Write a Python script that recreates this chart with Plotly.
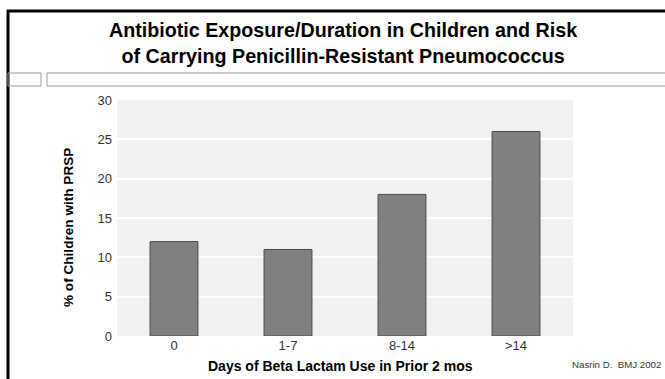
import plotly.graph_objects as go

categories = ["0", "1-7", "8-14", ">14"]
values = [12, 11, 18, 26]
y_ticks = [0, 5, 10, 15, 20, 25, 30]

W, H = 665, 379
L, R, T, B = 117, 573, 100, 336  # plot area in px


def px(x):
    return (x - L) / (R - L)


def py(y):
    return (B - y) / (B - T)


fig = go.Figure(
    go.Bar(
        x=categories,
        y=values,
        marker=dict(color="#808080", line=dict(color="#4a4a4a", width=1)),
        width=0.42,
    )
)

font_main = "Liberation Sans, Arial, Helvetica, sans-serif"

fig.update_layout(
    width=W,
    height=H,
    margin=dict(l=L, r=W - R, t=T, b=H - B),
    paper_bgcolor="white",
    plot_bgcolor="#f2f2f2",
    showlegend=False,
    font=dict(family=font_main, color="#333333", size=12),
    xaxis=dict(
        showgrid=False,
        zeroline=False,
        showline=False,
        ticks="",
        tickfont=dict(size=13, color="#333333"),
    ),
    yaxis=dict(
        range=[0, 30],
        tickvals=y_ticks,
        showgrid=True,
        gridcolor="white",
        gridwidth=1.5,
        zeroline=False,
        showline=False,
        ticks="",
        ticklabelstandoff=4,
        tickfont=dict(size=13, color="#333333"),
    ),
    shapes=[
        # frame top line
        dict(type="line", xref="paper", yref="paper", x0=px(7), x1=px(670),
             y0=py(11), y1=py(11), line=dict(color="black", width=3)),
        # frame left line
        dict(type="line", xref="paper", yref="paper", x0=px(8), x1=px(8),
             y0=py(10), y1=py(385), line=dict(color="black", width=3)),
        # small boxes
        dict(type="rect", xref="paper", yref="paper", x0=px(8), x1=px(41),
             y0=py(73), y1=py(86), line=dict(color="#9a9a9a", width=1)),
        dict(type="rect", xref="paper", yref="paper", x0=px(47), x1=px(680),
             y0=py(73), y1=py(86), line=dict(color="#9a9a9a", width=1)),
    ],
    annotations=[
        dict(
            text="<b>Antibiotic Exposure/Duration in Children and Risk<br>of Carrying Penicillin-Resistant Pneumococcus</b>",
            xref="paper", yref="paper", x=px(343), y=py(43),
            xanchor="center", yanchor="middle", showarrow=False,
            font=dict(size=19.7, color="black", family=font_main),
        ),
        dict(
            text="<b>% of Children with PRSP</b>",
            xref="paper", yref="paper", x=px(68), y=py(228),
            xanchor="center", yanchor="middle", showarrow=False, textangle=-90,
            font=dict(size=13.6, color="black", family=font_main),
        ),
        dict(
            text="<b>Days of Beta Lactam Use in Prior 2 mos</b>",
            xref="paper", yref="paper", x=px(340), y=py(366),
            xanchor="center", yanchor="middle", showarrow=False,
            font=dict(size=14, color="black", family=font_main),
        ),
        dict(
            text="Nasrin D.  BMJ 2002",
            xref="paper", yref="paper", x=px(616), y=py(364),
            xanchor="center", yanchor="middle", showarrow=False,
            font=dict(size=9.7, color="#333333", family=font_main),
        ),
    ],
)

fig.write_html("out.html")
